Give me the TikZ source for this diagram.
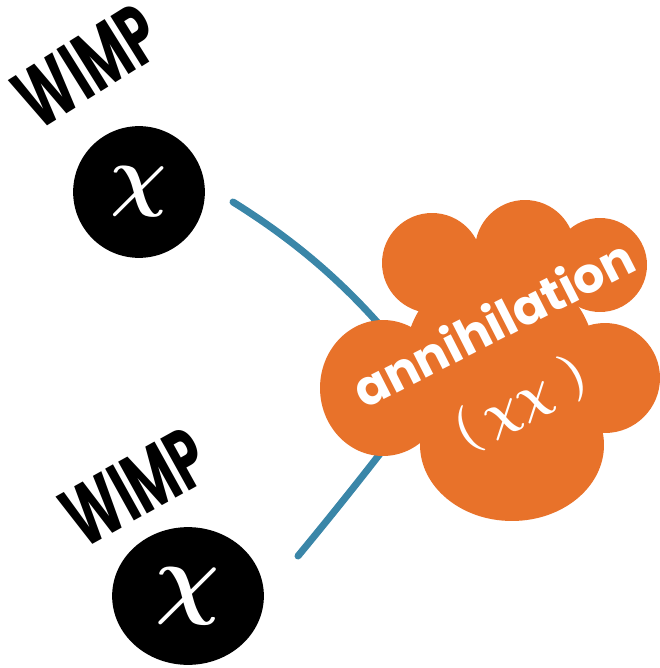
\documentclass[tikz,border=0pt]{standalone}
\usepackage{fontspec}
\usepackage{graphicx}
\setmainfont{Poppins}
\usetikzlibrary{shapes.geometric}
\definecolor{cloudorange}{HTML}{E8722A}
\definecolor{lineblue}{HTML}{3A86A8}
\begin{document}
\begin{tikzpicture}[x=0.02cm,y=-0.02cm,
  particle/.style={fill=black, draw=black, line width=1pt, text=white, inner sep=0pt},
  tag/.style={font=\bfseries\fontsize{48}{48}\selectfont, inner sep=0pt},
  beam/.style={draw=lineblue, line width=0.14cm, line cap=round},
  puff/.style={fill=cloudorange}]
\useasboundingbox (0,0) rectangle (659,668);

% the two incoming lines meet under the cloud
\coordinate (hub) at (430,388);
\coordinate (endA) at (233,202);
\coordinate (endB) at (298,556);
\draw[beam] (endA) .. controls (310,250) and (370,305) .. (hub);
\draw[beam] (endB) .. controls (340,505) and (380,455) .. (hub);

% cloud built from overlapping lobes
\fill[puff] (383,388) ellipse [x radius=1.26cm, y radius=1.36cm];
\fill[puff] (432,263) circle [radius=1.0cm];
\fill[puff] (525,250) circle [radius=1.0cm];
\fill[puff] (600,265) circle [radius=0.94cm];
\fill[puff] (605,378) circle [radius=1.1cm];
\fill[puff] (512,445) ellipse [x radius=1.84cm, y radius=1.52cm];
\fill[puff] (500,360) circle [radius=1.9cm];

\node[anchor=base west, rotate=27, text=white, inner sep=0pt,
      font=\bfseries\fontsize{28}{28}\selectfont] (ann) at (364,410) {annihilation};
\node[rotate=27, text=white, inner sep=0pt] (pair) at (521,404)
      {\scalebox{1.15}{\Huge\boldmath$(\,\chi\chi\;)$}};

% particles
\node[particle, circle, minimum size=2.6cm] (chiA) at (139,192)
      {\scalebox{1.8}{\Huge\boldmath$\chi$}};
\node[particle, ellipse, minimum width=3.0cm, minimum height=2.72cm] (chiB) at (188,596)
      {\scalebox{2.05}{\Huge\boldmath$\chi$}};

% labels
\node[rotate=32, xscale=0.62, tag] (wimpA) at (87,66) {WIMP};
\node[rotate=29, xscale=0.62, tag] (wimpB) at (135,487) {WIMP};
\end{tikzpicture}
\end{document}
